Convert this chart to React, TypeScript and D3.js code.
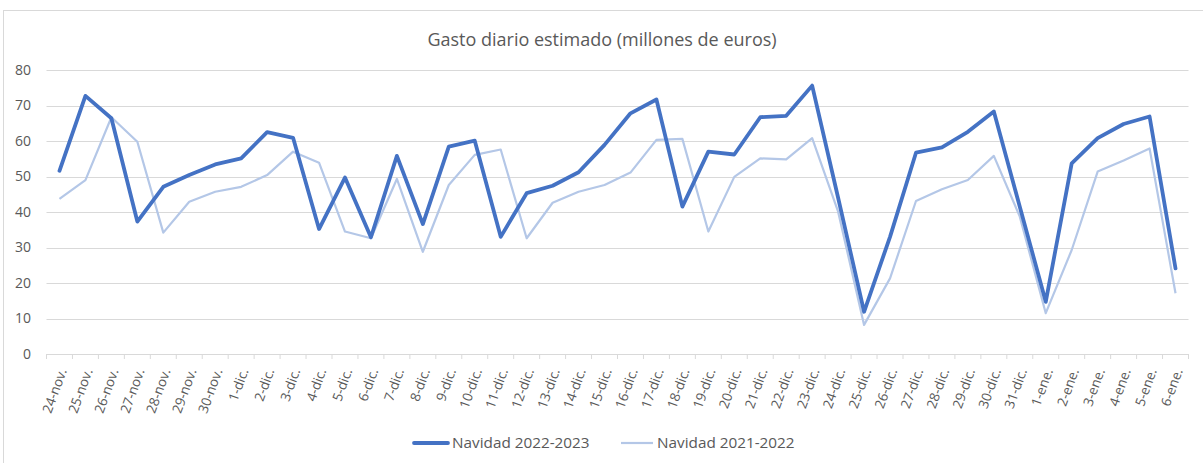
import React from 'react';
import * as d3 from 'd3';

const categories = [
  '24-nov.', '25-nov.', '26-nov.', '27-nov.', '28-nov.', '29-nov.', '30-nov.',
  '1-dic.', '2-dic.', '3-dic.', '4-dic.', '5-dic.', '6-dic.', '7-dic.', '8-dic.',
  '9-dic.', '10-dic.', '11-dic.', '12-dic.', '13-dic.', '14-dic.', '15-dic.',
  '16-dic.', '17-dic.', '18-dic.', '19-dic.', '20-dic.', '21-dic.', '22-dic.',
  '23-dic.', '24-dic.', '25-dic.', '26-dic.', '27-dic.', '28-dic.', '29-dic.',
  '30-dic.', '31-dic.', '1-ene.', '2-ene.', '3-ene.', '4-ene.', '5-ene.', '6-ene.'
];

const navidad2223 = [
  51.6, 72.7, 66.4, 37.3, 47.1, 50.4, 53.4, 55.1, 62.5, 60.9, 35.2, 49.7, 32.9,
  55.8, 36.6, 58.4, 60.1, 33.0, 45.3, 47.4, 51.2, 58.9, 67.8, 71.7, 41.5, 57.0,
  56.2, 66.7, 67.1, 75.6, 44.0, 11.9, 33.0, 56.7, 58.2, 62.6, 68.3, 41.5, 14.7,
  53.7, 60.8, 64.8, 66.9, 24.1
];

const navidad2122 = [
  43.7, 49.0, 66.7, 59.8, 34.2, 42.9, 45.7, 47.1, 50.4, 57.0, 53.9, 34.5, 32.6,
  49.3, 28.8, 47.6, 56.1, 57.6, 32.6, 42.6, 45.7, 47.6, 51.1, 60.3, 60.6, 34.5,
  49.9, 55.1, 54.8, 60.8, 40.1, 8.2, 21.3, 43.1, 46.4, 49.0, 55.8, 38.7, 11.5,
  29.3, 51.4, 54.5, 57.9, 17.1
];

const yTicks = [0, 10, 20, 30, 40, 50, 60, 70, 80];

const seriesNames = ['Navidad 2022-2023', 'Navidad 2021-2022'];

const W = 1203;
const H = 463;
const left = 46.5;
const right = 1188.5;
const top = 70;
const bottom = 354;
const font = '"Open Sans", sans-serif';
const textColor = '#595959';

export default function App() {
  const x = d3.scaleBand<string>().domain(categories).range([left, right]);
  const y = d3.scaleLinear().domain([0, 80]).range([bottom, top]);
  const cx = (c: string) => (x(c) as number) + x.bandwidth() / 2;

  const line = d3.line<number>()
    .x((d, i) => cx(categories[i]))
    .y(d => y(d));

  const boundaries = categories.map(c => x(c) as number).concat([right]);

  return (
    <svg width={W} height={H} style={{ position: 'absolute', left: 0, top: 0, background: '#fff' }}>
      <rect x={3.5} y={10.5} width={1400} height={700} fill="#fff" stroke="#d9d9d9" />
      <text x={602} y={46} textAnchor="middle" fontFamily={font} fontSize={18} fill={textColor}>
        Gasto diario estimado (millones de euros)
      </text>

      {yTicks.map(t => (
        <g key={t}>
          <line x1={left} x2={right} y1={Math.round(y(t)) + 0.5} y2={Math.round(y(t)) + 0.5}
                stroke="#d9d9d9" strokeWidth={1} />
          <text x={31} y={y(t)} dy="0.35em" textAnchor="end" fontFamily={font} fontSize={14} fill={textColor}>
            {t}
          </text>
        </g>
      ))}

      {boundaries.map((b, i) => (
        <line key={i} x1={b} x2={b} y1={bottom} y2={bottom + 5} stroke="#d9d9d9" />
      ))}

      {categories.map(c => (
        <text key={c} transform={`translate(${cx(c) + 3},${bottom + 15}) rotate(-70)`}
              dy="0.35em" textAnchor="end" fontFamily={font} fontSize={13.5} fill={textColor}>
          {c}
        </text>
      ))}

      <path d={line(navidad2122) as string} fill="none" stroke="#b4c7e7" strokeWidth={2.2}
            strokeLinejoin="round" />
      <path d={line(navidad2223) as string} fill="none" stroke="#4472c4" strokeWidth={3.8}
            strokeLinejoin="round" strokeLinecap="round" />

      <g transform="translate(414,443)">
        <line x1={0} x2={34} y1={0} y2={0} stroke="#4472c4" strokeWidth={3.8} strokeLinecap="round" />
        <text x={38} dy="0.35em" fontFamily={font} fontSize={15.3} fill={textColor}>{seriesNames[0]}</text>
      </g>
      <g transform="translate(621,443)">
        <line x1={0} x2={32} y1={0} y2={0} stroke="#b4c7e7" strokeWidth={2.2} />
        <text x={36} dy="0.35em" fontFamily={font} fontSize={15.3} fill={textColor}>{seriesNames[1]}</text>
      </g>
    </svg>
  );
}
